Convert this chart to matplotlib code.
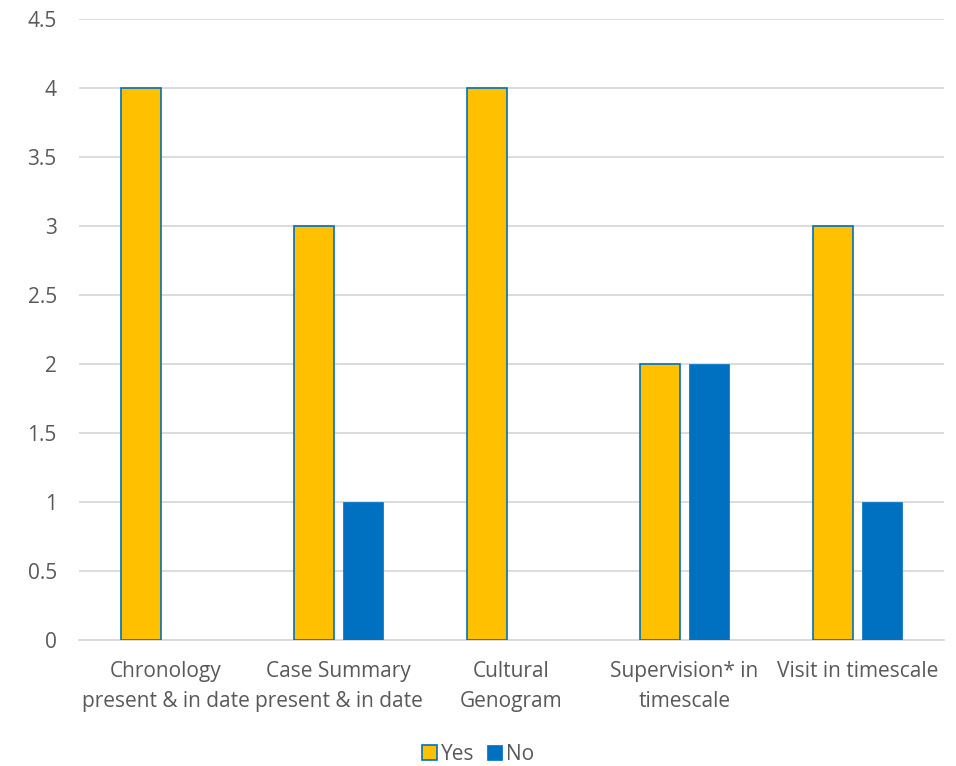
import matplotlib
matplotlib.use('Agg')
import matplotlib.pyplot as plt
import numpy as np

categories = ['Chronology\npresent & in date', 'Case Summary\npresent & in date',
              'Cultural\nGenogram', 'Supervision* in\ntimescale', 'Visit in timescale']
yes_vals = [4, 3, 4, 2, 3]
no_vals = [0, 1, 0, 2, 1]
yticks = [0, 0.5, 1, 1.5, 2, 2.5, 3, 3.5, 4, 4.5]

YES_COL = '#FFC000'
NO_COL = '#0070C0'
TEXT_COL = '#595959'
GRID_COL = '#D9D9D9'

plt.rcParams['font.family'] = ['Open Sans', 'DejaVu Sans']

fig = plt.figure(figsize=(9.56, 7.66), dpi=100)
ax = fig.add_axes([79 / 956, 1 - 640 / 766, 865 / 956, 621 / 766])

x = np.arange(len(categories))
w = 0.23
off = 0.142
ax.bar(x - off, yes_vals, w, color=YES_COL, edgecolor=NO_COL, linewidth=1.2,
       label='Yes', zorder=3)
ax.bar(x + off, no_vals, w, color=NO_COL, edgecolor=NO_COL, linewidth=0.5,
       label='No', zorder=3)

ax.set_xlim(-0.5, len(categories) - 0.5)
ax.set_ylim(0, 4.5)
ax.set_yticks(yticks)
ax.set_yticklabels([f'{t:g}' for t in yticks])
ax.set_xticks(x)
ax.set_xticklabels(categories, linespacing=1.55)
ax.yaxis.grid(True, color=GRID_COL, linewidth=1.3, zorder=0)
ax.set_axisbelow(True)
for s in ['top', 'right', 'left']:
    ax.spines[s].set_visible(False)
ax.spines['bottom'].set_color(GRID_COL)
ax.spines['bottom'].set_linewidth(1.3)
ax.tick_params(axis='both', length=0, colors=TEXT_COL, labelsize=15)
ax.tick_params(axis='y', pad=16)
ax.tick_params(axis='x', pad=15)

fig.legend(loc='center', bbox_to_anchor=(0.5, 1 - 754 / 766), ncol=2, frameon=False,
           fontsize=15, labelcolor=TEXT_COL, handlelength=0.7, handleheight=0.7,
           handletextpad=0.2, columnspacing=0.6)

fig.savefig('out.png', dpi=100, facecolor='white')
